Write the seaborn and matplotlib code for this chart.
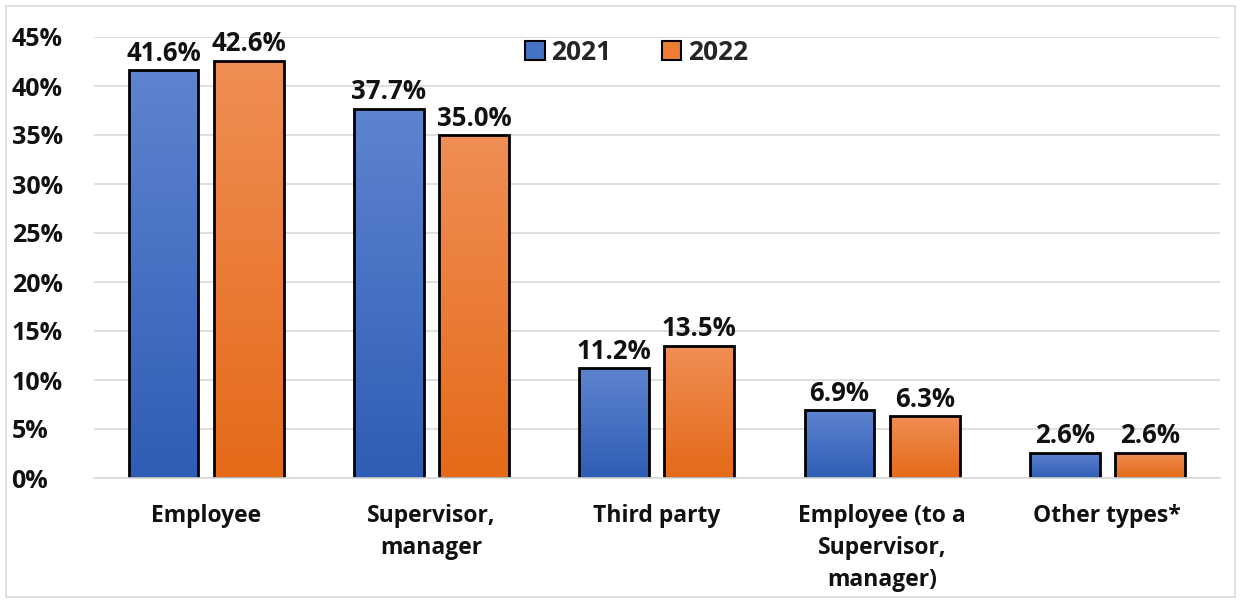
import numpy as np
import pandas as pd
import matplotlib
matplotlib.use("Agg")
import matplotlib.pyplot as plt
import matplotlib.patches as mpatches
import seaborn as sns

# --- data ---
categories = ["Employee", "Supervisor,\nmanager", "Third party",
              "Employee (to a\nSupervisor,\nmanager)", "Other types*"]
years = ["2021", "2022"]
values_2021 = [41.6, 37.7, 11.2, 6.9, 2.6]
values_2022 = [42.6, 35.0, 13.5, 6.3, 2.6]

df = pd.DataFrame({
    "category": categories * 2,
    "year": [years[0]] * 5 + [years[1]] * 5,
    "value": values_2021 + values_2022,
})

sns.set_theme(style="white")
plt.rcParams['font.family'] = ['Open Sans', 'DejaVu Sans']
plt.rcParams['font.weight'] = 'bold'

fig = plt.figure(figsize=(12.41, 6.03), dpi=100)
ax = fig.add_axes([93.5 / 1241, 125 / 603, (1220 - 93.5) / 1241, 441 / 603])

palette = {"2021": "#4472C4", "2022": "#ED7D31"}
sns.barplot(data=df, x="category", y="value", hue="year", palette=palette,
            width=0.756, gap=0.18, edgecolor="black", linewidth=2,
            saturation=1, ax=ax, legend=False)

# gradient fills (lighter at top, darker at bottom)
grads = {"2021": ("#5E84CF", "#2F5DB5"), "2022": ("#F08E55", "#E46A18")}
bars = [p for p in ax.patches if isinstance(p, mpatches.Rectangle) and p.get_height() > 0]
for i, p in enumerate(bars):
    yr = years[0] if i < 5 else years[1]
    top, bot = grads[yr]
    cmap = matplotlib.colors.LinearSegmentedColormap.from_list("g", [bot, top])
    x0, w, h = p.get_x(), p.get_width(), p.get_height()
    img = ax.imshow(np.linspace(0, 1, 256).reshape(-1, 1), cmap=cmap, origin="lower",
                    extent=[x0, x0 + w, 0, h], aspect="auto", zorder=p.get_zorder() - 0.1)
    img.set_clip_path(p)
    p.set_facecolor("none")
    ax.text(x0 + w / 2, h + 0.35, f"{h:.1f}%", ha="center", va="bottom",
            fontsize=18.5, fontweight="bold", color="#111111")

ax.set_xlim(-0.5, 4.5)
ax.set_ylim(0, 45)
ax.set_yticks(range(0, 50, 5))
ax.set_yticklabels([f"{v}%" for v in range(0, 50, 5)])
ax.yaxis.grid(True, color="#D9D9D9", linewidth=1.2)
ax.set_axisbelow(True)
for s in ["top", "right", "left"]:
    ax.spines[s].set_visible(False)
ax.spines["bottom"].set_color("#D9D9D9")
ax.spines["bottom"].set_linewidth(1.2)
ax.tick_params(axis="y", labelsize=18, length=0, pad=59)
ax.tick_params(axis="x", labelsize=16.5, length=0, pad=19)
for lbl in ax.get_xticklabels() + ax.get_yticklabels():
    lbl.set_fontweight("bold")
    lbl.set_color("#111111")
for lbl in ax.get_xticklabels():
    lbl.set_linespacing(1.42)
for lbl in ax.get_yticklabels():
    lbl.set_horizontalalignment("left")
ax.set_xlabel("")
ax.set_ylabel("")

handles = [mpatches.Patch(facecolor=palette[y], edgecolor="black", linewidth=1.5, label=y)
           for y in years]
leg = ax.legend(handles=handles, loc="upper center", bbox_to_anchor=(0.482, 1.05),
                ncol=2, frameon=False, fontsize=19, handlelength=0.75, handleheight=0.75,
                handletextpad=0.25, columnspacing=1.9)
for t in leg.get_texts():
    t.set_fontweight("bold")

fig.patches.append(mpatches.Rectangle((6 / 1241, 6 / 603), 1229 / 1241, 591 / 603,
                                      transform=fig.transFigure, fill=False,
                                      edgecolor="#D9D9D9", linewidth=1.2))

fig.savefig("out.png", dpi=100)
